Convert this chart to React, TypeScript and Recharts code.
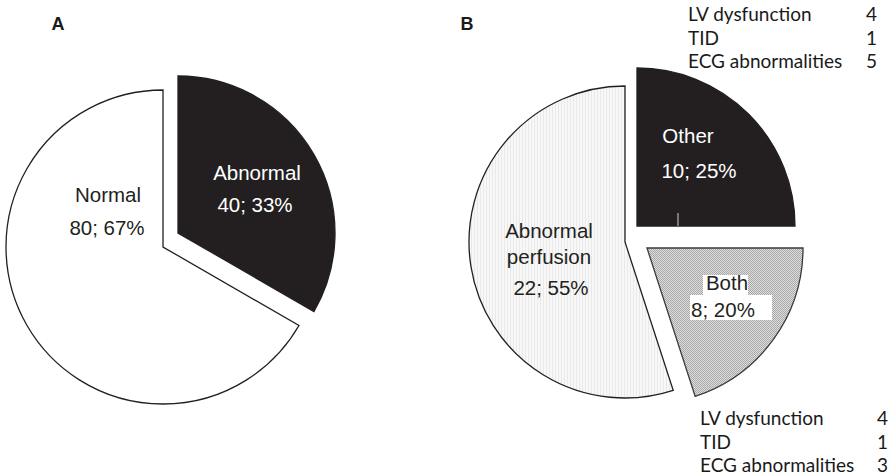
import React from "react";
import { PieChart, Pie, Cell } from "recharts";

// panel A
const catsA = ["Abnormal", "Normal"];
const valsA = [40, 80];
// panel B
const catsB = ["Other", "Both", "Abnormal perfusion"];
const valsB = [10, 8, 22];
// side tables
const tableRows = ["LV dysfunction", "TID", "ECG abnormalities"];
const otherCounts = [4, 1, 5];
const bothCounts = [4, 1, 3];

const dataA = catsA.map((name, i) => ({ name, value: valsA[i] }));
const dataB = catsB.map((name, i) => ({ name, value: valsB[i] }));

const INK = "#231f20";
const FONT = "'Liberation Sans', Arial, sans-serif";
const TABLE_FONT = "Lato, 'Open Sans', sans-serif";

// exploded slices: each gets its own centre
const slices: Record<string, { cx: number; cy: number; r: number; fill: string; stroke: string; text: string }> = {
  Normal: { cx: 163, cy: 247, r: 157, fill: "#ffffff", stroke: INK, text: INK },
  Abnormal: { cx: 178, cy: 233, r: 157, fill: INK, stroke: INK, text: "#ffffff" },
  "Abnormal perfusion": { cx: 625, cy: 242, r: 156, fill: "url(#dots)", stroke: INK, text: INK },
  Other: { cx: 637, cy: 226, r: 158, fill: INK, stroke: INK, text: "#ffffff" },
  Both: { cx: 647, cy: 248, r: 156, fill: "url(#hatch)", stroke: "#3a3a3a", text: INK },
};

// label line offsets from slice centre
const labelLines: Record<string, { dx: number; dy: number; t: string }[]> = {
  Normal: [
    { dx: -55, dy: -45, t: "name" },
    { dx: -56, dy: -12, t: "val" },
  ],
  Abnormal: [
    { dx: 79, dy: -53, t: "name" },
    { dx: 77, dy: -21, t: "val" },
  ],
  Other: [
    { dx: 51, dy: -83, t: "name" },
    { dx: 62, dy: -48, t: "val" },
  ],
  "Abnormal perfusion": [
    { dx: -76, dy: -4, t: "Abnormal" },
    { dx: -76, dy: 22, t: "perfusion" },
    { dx: -74, dy: 53, t: "val" },
  ],
  Both: [
    { dx: 80, dy: 42, t: "name" },
    { dx: 76, dy: 69, t: "val" },
  ],
};

function makeLabel(only: string) {
  return (props: any) => {
    const name = props.name ?? props.payload?.name;
    if (name !== only) return null;
    const s = slices[name];
    const pct = Math.round((props.percent ?? 0) * 100);
    const valText = `${props.value ?? props.payload?.value}; ${pct}%`;
    return (
      <g>
        {name === "Both" && (
          <>
            <rect x={s.cx + 56} y={s.cy + 27} width={45} height={20} fill="#fff" />
            <rect x={s.cx + 43} y={s.cy + 47} width={82} height={25} fill="#fff" />
          </>
        )}
        {labelLines[name].map((l, i) => (
          <text
            key={i}
            x={s.cx + l.dx}
            y={s.cy + l.dy}
            textAnchor="middle"
            fill={s.text}
            fontFamily={FONT}
            fontSize={20.5}
          >
            {l.t === "name" ? name : l.t === "val" ? valText : l.t}
          </text>
        ))}
      </g>
    );
  };
}

function SlicePie({ data, show }: { data: { name: string; value: number }[]; show: string }) {
  const s = slices[show];
  return (
    <Pie
      data={data}
      dataKey="value"
      nameKey="name"
      cx={s.cx}
      cy={s.cy}
      outerRadius={s.r}
      startAngle={90}
      endAngle={-270}
      isAnimationActive={false}
      labelLine={false}
      label={makeLabel(show)}
    >
      {data.map((d) => (
        <Cell
          key={d.name}
          fill={d.name === show ? s.fill : "none"}
          stroke={d.name === show ? s.stroke : "none"}
          strokeWidth={1.3}
        />
      ))}
    </Pie>
  );
}

function Table({ x, right, y, counts }: { x: number; right: number; y: number; counts: number[] }) {
  return (
    <g fontFamily={TABLE_FONT} fontSize={19} fill="#1a1a1a">
      {tableRows.map((row, i) => (
        <g key={row}>
          <text x={x} y={y + i * 23.5}>{row}</text>
          <text x={right} y={y + i * 23.5} textAnchor="end">{counts[i]}</text>
        </g>
      ))}
    </g>
  );
}

export default function App() {
  return (
    <div style={{ position: "absolute", left: 0, top: 0, width: 891, height: 476, background: "#fff" }}>
      <svg width={0} height={0} style={{ position: "absolute" }}>
        <defs>
          <pattern id="dots" width={3} height={3} patternUnits="userSpaceOnUse">
            <rect width={3} height={3} fill="#f8f8f8" />
            <rect width={1} height={3} fill="#e9e9e9" />
          </pattern>
          <pattern id="hatch" width={2} height={2} patternUnits="userSpaceOnUse">
            <rect width={2} height={2} fill="#dedede" />
            <rect width={1} height={1} fill="#a8a8a8" />
            <rect x={1} y={1} width={1} height={1} fill="#a8a8a8" />
          </pattern>
        </defs>
      </svg>
      <PieChart width={891} height={476} margin={{ top: 0, right: 0, bottom: 0, left: 0 }}>
        <SlicePie data={dataA} show="Normal" />
        <SlicePie data={dataA} show="Abnormal" />
        <SlicePie data={dataB} show="Abnormal perfusion" />
        <SlicePie data={dataB} show="Other" />
        <SlicePie data={dataB} show="Both" />
      </PieChart>
      <svg width={891} height={476} style={{ position: "absolute", left: 0, top: 0, pointerEvents: "none" }}>
        <text x={58} y={30} textAnchor="middle" fontFamily={FONT} fontWeight="bold" fontSize={18} fill="#1a1a1a">A</text>
        <text x={467} y={30} textAnchor="middle" fontFamily={FONT} fontWeight="bold" fontSize={18} fill="#1a1a1a">B</text>
        <Table x={688} right={877} y={21} counts={otherCounts} />
        <Table x={700} right={888} y={425} counts={bothCounts} />
        <line x1={678} y1={213} x2={678} y2={226} stroke="#cfcfcf" strokeWidth={1} />
      </svg>
    </div>
  );
}
